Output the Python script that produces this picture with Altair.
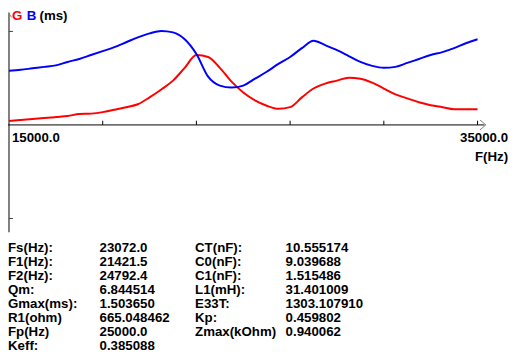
import altair as alt
import pandas as pd

# ---------------- data ----------------
freq_hz = [15000, 15500, 16000, 16500, 17000, 17500, 18000, 18500, 19000, 19500,
           20000, 20500, 21000, 21500, 22000, 22500, 23000, 23500, 24000, 24500,
           25000, 25500, 26000, 26500, 27000, 27500, 28000, 28500, 29000, 29500,
           30000, 30500, 31000, 31500, 32000, 32500, 33000, 33500, 34000, 34500,
           35000]
g_ms = [0.084, 0.105, 0.126, 0.147, 0.168, 0.189, 0.232, 0.242, 0.274, 0.326,
        0.379, 0.442, 0.589, 0.758, 0.947, 1.221, 1.495, 1.453, 1.221, 0.926,
        0.695, 0.526, 0.411, 0.345, 0.380, 0.589, 0.779, 0.884, 0.947, 1.011,
        0.989, 0.905, 0.779, 0.653, 0.568, 0.484, 0.421, 0.379, 0.337, 0.337,
        0.337]
b_ms = [1.158, 1.179, 1.211, 1.242, 1.274, 1.347, 1.411, 1.495, 1.579, 1.663,
        1.768, 1.874, 1.958, 2.011, 1.979, 1.832, 1.516, 1.032, 0.842, 0.800,
        0.842, 0.989, 1.137, 1.305, 1.453, 1.642, 1.800, 1.705, 1.600, 1.474,
        1.347, 1.263, 1.221, 1.242, 1.326, 1.411, 1.495, 1.558, 1.642, 1.747,
        1.832]

x_ticks = [19000, 23000, 27000, 31000, 35000]
y_ticks = [2.0, -2.0]
x_min_label = "15000.0"
x_max_label = "35000.0"
x_title = "F(Hz)"

labels_left = ["Fs(Hz):", "F1(Hz):", "F2(Hz):", "Qm:", "Gmax(ms):", "R1(ohm)", "Fp(Hz)", "Keff:"]
values_left = ["23072.0", "21421.5", "24792.4", "6.844514", "1.503650", "665.048462", "25000.0", "0.385088"]
labels_right = ["CT(nF):", "C0(nF):", "C1(nF):", "L1(mH):", "E33T:", "Kp:", "Zmax(kOhm)"]
values_right = ["10.555174", "9.039688", "1.515486", "31.401009", "1303.107910", "0.459802", "0.940062"]

# ---------------- scales ----------------
W, H = 512, 351
xs = alt.Scale(domain=[14958.0, 36470.6], nice=False, zero=False)
ys = alt.Scale(domain=[-4.947, 2.442], nice=False, zero=False)
FONT = "Liberation Sans"
FS = 13.5
GRAY = "#808080"

curves = pd.DataFrame({
    "f": freq_hz * 2,
    "v": g_ms + b_ms,
    "s": ["G"] * len(g_ms) + ["B"] * len(b_ms),
})


def X(f):
    return alt.X(f, scale=xs, axis=None)


def Y(f):
    return alt.Y(f, scale=ys, axis=None)


lines = alt.Chart(curves).mark_line(strokeWidth=2, interpolate="monotone").encode(
    x=X("f:Q"),
    y=Y("v:Q"),
    color=alt.Color("s:N", scale=alt.Scale(domain=["G", "B"], range=["#ff0000", "#0000ff"]), legend=None),
)

yaxis = alt.Chart(pd.DataFrame({"y": [2.4], "y2": [-2.295]})).mark_rule(
    color=GRAY, strokeWidth=2).encode(x=alt.value(1), y=Y("y:Q"), y2="y2:Q")
yarrow = alt.Chart(pd.DataFrame({"y": [2.349]})).mark_point(
    shape="M-0.8,0.6L0,-0.6L0.8,0.6", size=64, filled=False,
    color=GRAY, strokeWidth=1, opacity=1).encode(x=alt.value(0.5), y=Y("y:Q"))
xaxis = alt.Chart(pd.DataFrame({"x": [14958.0, 35300.0], "y": [0.0, 0.0]})).mark_line(
    color="#000000", strokeWidth=1).encode(x=X("x:Q"), y=Y("y:Q"))
xarrow = alt.Chart(pd.DataFrame({"x": [35230], "y": [0]})).mark_point(
    shape="M-0.6,-1L0.6,0L-0.6,1", size=100, filled=False,
    color=GRAY, strokeWidth=1, opacity=1).encode(x=X("x:Q"), y=Y("y:Q"))
xt = alt.Chart(pd.DataFrame({"t": x_ticks, "y": [0] * 5, "y2": [0.09] * 5})).mark_rule(
    color="#000000", strokeWidth=1).encode(x=X("t:Q"), y=Y("y:Q"), y2="y2:Q")
yt = alt.Chart(pd.DataFrame({"t": y_ticks, "x": [15000] * 2, "x2": [15170] * 2})).mark_rule(
    color="#404040", strokeWidth=1).encode(x=X("x:Q"), x2="x2:Q", y=Y("t:Q"))


def txt(text, x, y, color="#000000", align="left"):
    return alt.Chart(pd.DataFrame({"t": [text]})).mark_text(
        font=FONT, fontSize=FS, fontWeight="bold", color=color,
        align=align, baseline="middle",
    ).encode(x=alt.value(x), y=alt.value(y), text="t:N")


leg_g = txt("G", 4, 5, "#ff0000")
leg_b = txt("B", 19, 5, "#0000ff")
leg_u = txt("(ms)", 32, 5)

lab_min = alt.Chart(pd.DataFrame({"f": [15000], "t": [x_min_label]})).mark_text(
    font=FONT, fontSize=FS, fontWeight="bold", align="left", baseline="middle", dx=3, color="#000000"
).encode(x=X("f:Q"), y=alt.value(129), text="t:N")
lab_max = alt.Chart(pd.DataFrame({"f": [35000], "t": [x_max_label]})).mark_text(
    font=FONT, fontSize=FS, fontWeight="bold", align="right", baseline="middle", dx=31, color="#000000"
).encode(x=X("f:Q"), y=alt.value(129), text="t:N")
lab_title = txt(x_title, 508, 149, align="right")

row_scale = alt.Scale(domain=[0, 7], range=[241, 241 + 7 * 14.3], nice=False, zero=False)


def column(texts, x):
    df = pd.DataFrame({"row": list(range(len(texts))), "t": texts})
    return alt.Chart(df).mark_text(
        font=FONT, fontSize=FS, fontWeight="bold", color="#000000",
        align="left", baseline="middle",
    ).encode(x=alt.value(x), y=alt.Y("row:Q", scale=row_scale, axis=None), text="t:N")


col1 = column(labels_left, 0)
col2 = column(values_left, 93)
col3 = column(labels_right, 190)
col4 = column(values_right, 282)

chart = alt.layer(
    yaxis, yarrow, xaxis, xarrow, xt, yt, lines,
    leg_g, leg_b, leg_u, lab_min, lab_max, lab_title,
    col1, col2, col3, col4,
).resolve_scale(y="independent").properties(
    width=W, height=H, padding=0, autosize=alt.AutoSizeParams(type="none"),
    background="#ffffff",
).configure_view(strokeWidth=0)

chart.save("out.html", embed_options={"renderer": "svg", "actions": False})
